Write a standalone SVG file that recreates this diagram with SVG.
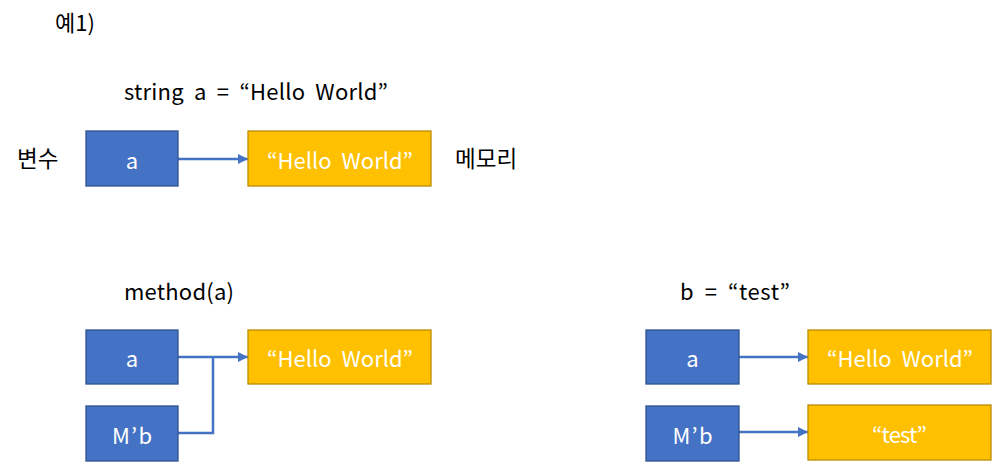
<svg xmlns="http://www.w3.org/2000/svg" width="992" height="463" viewBox="0 0 992 463">
<style>
text{font-family:"Noto Sans CJK KR","Noto Sans",sans-serif;font-size:22px;word-spacing:5px;}
.lbl{fill:#000;}
.ko{font-size:22.5px;}
.bt{fill:#fff;text-anchor:middle;dominant-baseline:central;}
.var{fill:#4472C4;stroke:#2F528F;stroke-width:1.3;}
.mem{fill:#FFC000;stroke:#BC8C00;stroke-width:1.3;}
.conn{fill:none;stroke:#4472C4;stroke-width:2.5;}
</style>
<defs>
<marker id="ah" viewBox="0 0 10 10" refX="10" refY="5" markerWidth="4" markerHeight="4" orient="auto" markerUnits="strokeWidth">
<path d="M0,0 L10,5 L0,10 z" fill="#4472C4"/>
</marker>
</defs>
<g id="labels">
<text class="lbl" x="55" y="31">예1)</text>
<text class="lbl" x="124" y="100" textLength="264" lengthAdjust="spacing">string a = “Hello World”</text>
<text class="lbl ko" x="17" y="167">변수</text>
<text class="lbl ko" x="455" y="167">메모리</text>
<text class="lbl" x="124" y="300" textLength="110" lengthAdjust="spacing">method(a)</text>
<text class="lbl" x="680" y="300" textLength="110" lengthAdjust="spacing">b = “test”</text>
</g>
<g id="connectors">
<line class="conn" x1="178" y1="159" x2="248" y2="159" marker-end="url(#ah)"/>
<line class="conn" x1="178" y1="357" x2="248" y2="357" marker-end="url(#ah)"/>
<polyline class="conn" points="178,433 213,433 213,357"/>
<line class="conn" x1="739" y1="357" x2="808" y2="357" marker-end="url(#ah)"/>
<line class="conn" x1="739" y1="432" x2="808" y2="432" marker-end="url(#ah)"/>
</g>
<g id="n1"><rect class="var" x="86" y="131" width="92" height="55"/><text class="bt" x="132" y="158.5">a</text></g>
<g id="n2"><rect class="mem" x="248" y="131" width="183" height="55"/><text class="bt" x="340" y="158.5" textLength="146" lengthAdjust="spacing">“Hello World”</text></g>
<g id="n3"><rect class="var" x="86" y="330" width="92" height="54"/><text class="bt" x="132" y="357">a</text></g>
<g id="n4"><rect class="var" x="86" y="406" width="92" height="55"/><text class="bt" x="132" y="433.5" textLength="40" lengthAdjust="spacing">M’b</text></g>
<g id="n5"><rect class="mem" x="248" y="330" width="183" height="54"/><text class="bt" x="340" y="357" textLength="146" lengthAdjust="spacing">“Hello World”</text></g>
<g id="n6"><rect class="var" x="646" y="330" width="93" height="54"/><text class="bt" x="692.5" y="357">a</text></g>
<g id="n7"><rect class="var" x="646" y="406" width="93" height="55"/><text class="bt" x="692.5" y="433.5" textLength="40" lengthAdjust="spacing">M’b</text></g>
<g id="n8"><rect class="mem" x="808" y="330" width="183" height="54"/><text class="bt" x="900" y="357" textLength="146" lengthAdjust="spacing">“Hello World”</text></g>
<g id="n9"><rect class="mem" x="808" y="405" width="183" height="55"/><text class="bt" x="899.5" y="432.5" textLength="55" lengthAdjust="spacing">“test”</text></g>
</svg>
